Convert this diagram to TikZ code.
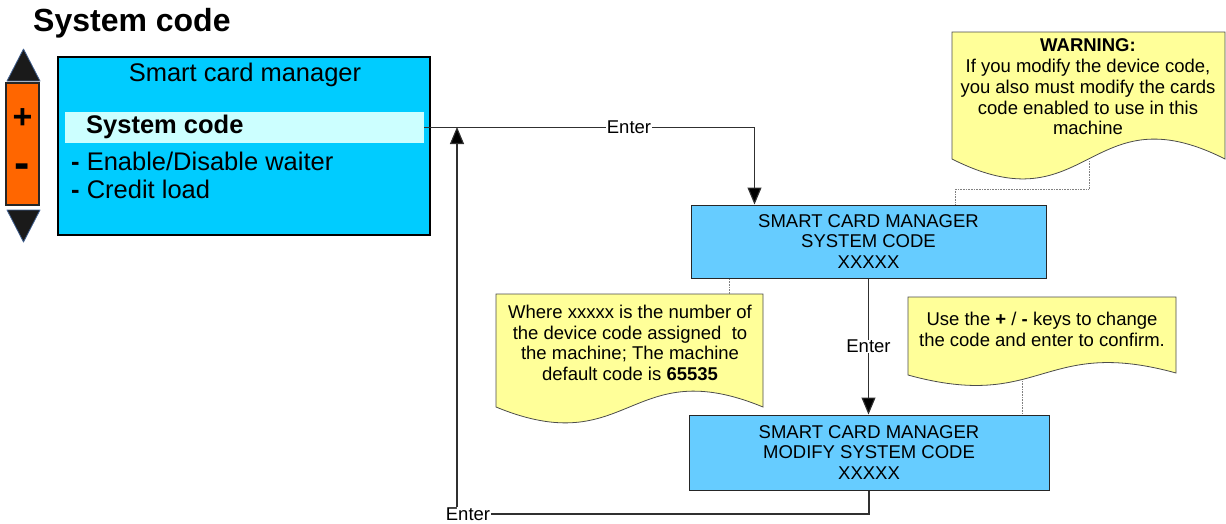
\documentclass[tikz,border=0pt]{standalone}
\usepackage{fontspec}
\setmainfont{Liberation Sans}
\usetikzlibrary{arrows.meta}
\definecolor{menublue}{HTML}{00CCFF}
\definecolor{hlcyan}{HTML}{CCFFFF}
\definecolor{boxblue}{HTML}{66CCFF}
\definecolor{noteyellow}{HTML}{FFFF99}
\definecolor{keyorange}{HTML}{FF6600}
\definecolor{tridark}{HTML}{1A1A1A}
\definecolor{triedge}{HTML}{3F5F8F}
\definecolor{lineclr}{HTML}{303030}
\begin{document}
\begin{tikzpicture}[x=1pt,y=-1pt,
  fs/.style={font=\fontsize{18.5}{20.7}\selectfont},
  big/.style={font=\fontsize{25.5}{28}\selectfont},
  bigb/.style={font=\fontsize{25.5}{28}\selectfont\bfseries},
  scbox/.style={draw=black!85,line width=1pt,fill=boxblue,minimum width=#1,align=center,inner sep=0pt,fs},
  notestyle/.style={draw=black!70,line width=0.8pt,fill=noteyellow},
  notetext/.style={align=center,inner sep=0pt,fs},
  conn/.style={draw=lineclr,line width=1.1pt},
  arrowconn/.style={conn,-{Triangle[length=17pt,width=14pt,fill=black]}},
  dotline/.style={draw=gray,line width=0.6pt,densely dotted},
  lbl/.style={fill=white,inner sep=0.5pt,fs},
  tri/.style={fill=tridark,draw=triedge,line width=0.8pt,line join=round}
]
\useasboundingbox (0,0) rectangle (1226,523);

% title
\node[anchor=west,inner sep=0pt,font=\fontsize{32}{36}\selectfont\bfseries] (title) at (33,23) {System code};

% keypad
\draw[tri] (7,81) -- (40,81) -- (23.5,49) -- cycle;
\draw[tri] (7,210) -- (40,210) -- (23.5,242) -- cycle;
\node[draw=black!85,line width=1.6pt,fill=keyorange,minimum width=33pt,minimum height=122pt,inner sep=0pt] (keys) at (22.5,144) {};
\node[inner sep=0pt,font=\fontsize{34}{36}\selectfont\bfseries] (plus) at (22.5,119) {+};
\node[inner sep=0pt,font=\fontsize{46}{46}\selectfont\bfseries] (minus) at (22.5,171) {-};

% menu box
\node[draw=black,line width=2.6pt,fill=menublue,minimum width=372pt,minimum height=178pt,inner sep=0pt] (menu) at (244,146) {};
\node[fill=hlcyan,minimum width=359pt,minimum height=31pt,inner sep=0pt] (hl) at (244.5,127.5) {};
\node[big,inner sep=0pt] (mtitle) at (245,75) {Smart card manager};
\node[bigb,anchor=west,inner sep=0pt] (msys) at (86,127) {System code};
\node[big,anchor=west,inner sep=0pt] (men) at (71,161) {\textbf{-} Enable/Disable waiter};
\node[big,anchor=west,inner sep=0pt] (mcr) at (71,189) {\textbf{-} Credit load};

% screens
\node[scbox=355pt,minimum height=73pt] (box1) at (868.5,241.5) {SMART CARD MANAGER\\SYSTEM CODE\\XXXXX};
\node[scbox=360pt,minimum height=75pt] (box2) at (869,452.5) {SMART CARD MANAGER\\MODIFY SYSTEM CODE\\XXXXX};

% notes
\draw[notestyle] (952,32) -- (1225,32) -- (1225,159) .. controls (1088.5,90) and (1088.5,228) .. (952,159) -- cycle;
\node[notetext] (warn) at (1088,87) {\textbf{WARNING:}\\ If you modify the device code,\\you also must modify the cards\\code enabled to use in this\\machine};
\draw[notestyle] (496,294) -- (763,294) -- (763,407) .. controls (629.5,352) and (629.5,462) .. (496,407) -- cycle;
\node[notetext] (note2) at (630,343) {Where xxxxx is the number of\\the device code assigned\ \ to\\the machine; The machine\\default code is \textbf{65535}};
\draw[notestyle] (908,297) -- (1176,297) -- (1176,373) .. controls (1042,336) and (1042,412) .. (908,375) -- cycle;
\node[notetext] (note3) at (1042,329.5) {Use the \textbf{+} / \textbf{-} keys to change\\the code and enter to confirm.};

\coordinate (wn) at (1089,161);
\coordinate (n2) at (729,294);
\coordinate (n3) at (1022,381);
\draw[dotline] (wn) -- ++(0,28) -| ([xshift=265pt]box1.north west);
\draw[dotline] (n2) -- (n2 |- box1.south);
\draw[dotline] (n3) -- (n3 |- box2.north);

% connectors
\draw[arrowconn] (hl.east) -| node[lbl,pos=0.31] (l1) {Enter} ([xshift=64pt]box1.north west);
\draw[arrowconn] (box1.south) -- node[lbl,midway] (l2) {Enter} (box1.south |- box2.north);
\coordinate (c2) at (457,514);
\coordinate (c3) at (457,127);
\draw[conn] (box2.south) |- (c2);
\draw[arrowconn] (c2) -- (c3);
\node[lbl,inner sep=1pt] (l3) at (468,514) {Enter};
\end{tikzpicture}
\end{document}
